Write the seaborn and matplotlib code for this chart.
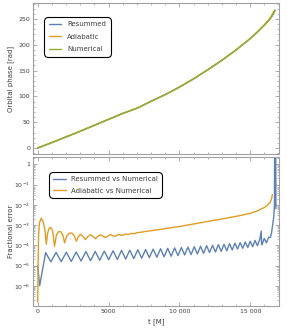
import numpy as np
import pandas as pd
import matplotlib
matplotlib.use("Agg")
import matplotlib.pyplot as plt
import matplotlib.ticker as mticker
import seaborn as sns

# ---------------- data ----------------
# Orbital phase [rad] vs t [M]
t_phase = [0, 1000, 2000, 3000, 4000, 5000, 6000, 7000, 8000, 9000, 10000,
           11000, 12000, 13000, 14000, 15000, 15500, 16000, 16300, 16500,
           16650, 16750]
phase_numerical = [0, 10.5, 21.5, 32.5, 44, 55.5, 67, 77, 90.5, 103.5, 118,
                   134, 151.5, 170, 190, 212, 224.5, 238, 247, 254, 261, 267]
phase_resummed = [0, 10.5, 21.5, 32.5, 44, 55.5, 67, 77, 90.5, 103.5, 118,
                  134, 151.5, 170, 190, 212, 224.5, 238, 247, 254, 261, 267]
t_phase_adiabatic = [0, 1000, 2000, 3000, 4000, 5000, 6000, 7000, 8000, 9000,
                     10000, 11000, 12000, 13000, 14000, 15000, 15500, 16000,
                     16300, 16500, 16650]
phase_adiabatic = [0, 10.5, 21.5, 32.5, 44, 55.5, 67, 77, 90.5, 103.5, 118,
                   134, 151.5, 170, 190, 212.3, 225, 239, 248.5, 256.5, 264.5]

# Fractional error, log10 values, vs t [M]
t_err_resummed = [0, 140, 560,
                  930, 1300, 1660, 2020, 2370, 2720, 3060, 3400, 3730, 4060,
                  4380, 4700, 5010, 5320, 5620, 5920, 6210, 6500, 6780, 7065,
                  7340, 7615, 7880, 8150, 8410, 8670, 8920, 9175, 9420, 9665,
                  9900, 10140, 10370, 10600, 10825, 11050, 11270, 11490,
                  11705, 11920, 12130, 12340, 12545, 12750, 12950, 13150,
                  13345, 13540, 13730, 13920, 14105, 14290, 14470, 14650,
                  14825, 15000, 15170, 15340, 15505, 15670,
                  15780, 15800, 15830, 15990, 16145, 16300,
                  16420, 16500, 16580, 16660, 16710, 16720, 16800, 16810]
log_err_resummed = [-5.0, -6.0, -4.36,
                    -4.82, -4.35, -4.81, -4.34, -4.80, -4.33, -4.78, -4.31,
                    -4.76, -4.30, -4.74, -4.29, -4.71, -4.27, -4.70, -4.25,
                    -4.68, -4.24, -4.66, -4.22, -4.64, -4.21, -4.61, -4.19,
                    -4.59, -4.17, -4.57, -4.15, -4.54, -4.13, -4.51, -4.11,
                    -4.48, -4.09, -4.46, -4.07, -4.43, -4.05, -4.40, -4.02,
                    -4.36, -4.00, -4.33, -3.97, -4.30, -3.95, -4.27, -3.92,
                    -4.23, -3.90, -4.19, -3.87, -4.15, -3.84, -4.11, -3.80,
                    -4.07, -3.76, -4.02, -3.71,
                    -3.30, -3.96, -3.97, -3.66, -3.88, -3.60,
                    -3.62, -3.40, -3.00, -2.60, -2.00, 0.6, 0.6, -2.2]

t_err_adiabatic = [0, 30, 60, 120, 250, 400, 520, 610, 700, 820, 930, 1060,
                   1190, 1320, 1470, 1616, 1780, 1900, 2050, 2250, 2437, 2600,
                   2730, 2870, 3022, 3180, 3370, 3550, 3725, 3900, 4080, 4250,
                   4427, 4600, 4780, 4950, 5130, 5300, 5450, 5600, 5716, 5900,
                   6050, 6200, 6400, 6600, 6800, 7000, 7250, 7500, 8000, 9000,
                   10000, 11000, 12000, 13000, 14000, 14500, 15000, 15500,
                   16000, 16200, 16400, 16500, 16560]
log_err_adiabatic = [-6.8, -5.0, -3.6, -2.9, -2.66, -2.85, -3.3, -3.95, -3.4,
                     -3.15, -3.12, -3.3, -4.05, -3.5, -3.33, -3.32, -3.5,
                     -3.88, -3.55, -3.4, -3.40, -3.55, -3.8, -3.58, -3.45,
                     -3.55, -3.72, -3.56, -3.48, -3.56, -3.68, -3.56, -3.48,
                     -3.55, -3.62, -3.54, -3.47, -3.52, -3.57, -3.5, -3.46,
                     -3.5, -3.5, -3.44, -3.47, -3.41, -3.43, -3.38, -3.36,
                     -3.33, -3.28, -3.18, -3.07, -2.95, -2.82, -2.70, -2.57,
                     -2.50, -2.42, -2.30, -2.13, -2.03, -1.88, -1.72, -1.50]

x_ticks = [0, 5000, 10000, 15000]
x_tick_labels = ["0", "5000", "10 000", "15 000"]
phase_ticks = [0, 50, 100, 150, 200, 250]
err_ticks = [1e-6, 1e-5, 1e-4, 1e-3, 1e-2, 1e-1, 1]
err_tick_labels = [r"$10^{-6}$", r"$10^{-5}$", r"$10^{-4}$", r"$10^{-3}$",
                   r"$10^{-2}$", r"$10^{-1}$", "1"]

# ---------------- style ----------------
sns.set_style("ticks")
plt.rcParams["font.family"] = ["DejaVu Sans"]
plt.rcParams["mathtext.fontset"] = "dejavusans"

C_BLUE = "#5E81B5"
C_ORANGE = "#E19C24"
C_GREEN = "#8FB131"
FRAME = "#A0A0A0"
TXT = "#404040"
LW = 1.0

W, H = 287, 333
fig = plt.figure(figsize=(W / 100, H / 100), dpi=100)
ax1 = fig.add_axes([33 / W, 1 - 154 / H, 246 / W, 151 / H])
ax2 = fig.add_axes([33 / W, 1 - 306 / H, 246 / W, 149 / H])

# ---------------- top panel ----------------
df_res = pd.DataFrame({"t": t_phase, "phase": phase_resummed})
df_adi = pd.DataFrame({"t": t_phase_adiabatic, "phase": phase_adiabatic})
df_num = pd.DataFrame({"t": t_phase, "phase": phase_numerical})
sns.lineplot(data=df_res, x="t", y="phase", ax=ax1, color=C_BLUE, lw=LW,
             label="Resummed", estimator=None, sort=False)
sns.lineplot(data=df_adi, x="t", y="phase", ax=ax1, color=C_ORANGE, lw=LW,
             label="Adiabatic", estimator=None, sort=False)
sns.lineplot(data=df_num, x="t", y="phase", ax=ax1, color=C_GREEN, lw=LW,
             label="Numerical", estimator=None, sort=False)

ax1.set_xlim(-330, 17030)
ax1.set_ylim(-11.6, 281)
ax1.set_xticks(x_ticks)
ax1.set_xticklabels([])
ax1.xaxis.set_minor_locator(mticker.MultipleLocator(1000))
ax1.set_yticks(phase_ticks)
ax1.yaxis.set_minor_locator(mticker.MultipleLocator(10))
ax1.set_xlabel("")
ax1.set_ylabel("Orbital phase [rad]", fontsize=5, color=TXT)
ax1.yaxis.set_label_coords(-0.077, 0.5)

# ---------------- bottom panel ----------------
df_e_res = pd.DataFrame({"t": t_err_resummed,
                         "err": np.power(10.0, log_err_resummed)})
df_e_adi = pd.DataFrame({"t": t_err_adiabatic,
                         "err": np.power(10.0, log_err_adiabatic)})
sns.lineplot(data=df_e_res, x="t", y="err", ax=ax2, color=C_BLUE, lw=LW,
             label="Resummed vs Numerical", estimator=None, sort=False)
sns.lineplot(data=df_e_adi, x="t", y="err", ax=ax2, color=C_ORANGE, lw=LW,
             label="Adiabatic vs Numerical", estimator=None, sort=False)
ax2.set_yscale("log")
ax2.set_xlim(-330, 17030)
ax2.set_ylim(1e-7, 2.3)
ax2.set_xticks(x_ticks)
ax2.set_xticklabels(x_tick_labels)
ax2.xaxis.set_minor_locator(mticker.MultipleLocator(1000))
ax2.set_yticks(err_ticks)
ax2.set_yticklabels(err_tick_labels)
ax2.yaxis.set_minor_locator(mticker.LogLocator(base=10, subs=np.arange(2, 10)))
ax2.yaxis.set_minor_formatter(mticker.NullFormatter())
ax2.set_xlabel("t [M]", fontsize=5, color=TXT, labelpad=3)
ax2.set_ylabel("Fractional error", fontsize=5, color=TXT)
ax2.yaxis.set_label_coords(-0.077, 0.5)

for ax in (ax1, ax2):
    for s in ax.spines.values():
        s.set_color(FRAME)
        s.set_linewidth(0.8)
    ax.tick_params(which="both", direction="in", top=True, right=True,
                   color=FRAME, labelsize=4.5, labelcolor=TXT, pad=2)
    ax.tick_params(which="major", length=2.8, width=0.6)
    ax.tick_params(which="minor", length=1.5, width=0.5)

leg1 = ax1.legend(loc="upper left", bbox_to_anchor=(0.045, 0.91), fontsize=5,
                  frameon=True, handlelength=1.8, labelspacing=0.9,
                  borderpad=0.7, handletextpad=0.8, borderaxespad=0)
leg2 = ax2.legend(loc="upper left", bbox_to_anchor=(0.065, 0.90), fontsize=5,
                  frameon=True, handlelength=1.8, labelspacing=0.8,
                  borderpad=0.6, handletextpad=0.8, borderaxespad=0)
for leg in (leg1, leg2):
    fr = leg.get_frame()
    fr.set_edgecolor("black")
    fr.set_linewidth(0.8)
    fr.set_alpha(1)
    fr.set_boxstyle("round,pad=0,rounding_size=0.6")
    for tx in leg.get_texts():
        tx.set_color(TXT)

fig.savefig("out.png", dpi=100)
